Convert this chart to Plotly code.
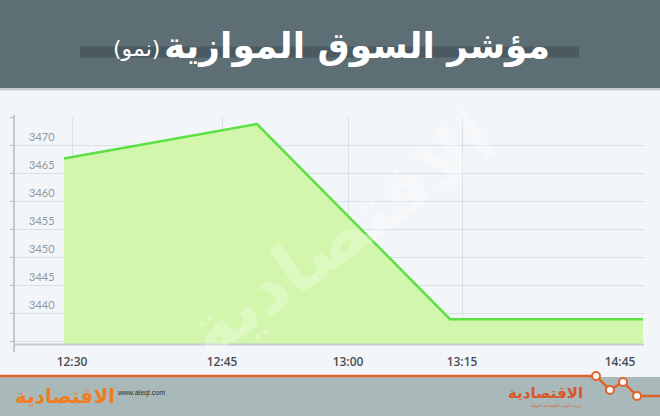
import plotly.graph_objects as go

# ---- data ----
points = [0, 1, 2, 3]                       # sample index along the session
index_values = [3467.6, 3473.75, 3438.9, 3438.9]
time_labels = ["12:30", "12:45", "13:00", "13:15", "14:45"]
time_label_pos = [0.0415, 0.8187, 1.4715, 2.0622, 2.8808]
y_ticks = [3440, 3445, 3450, 3455, 3460, 3465, 3470]
y_grid = [3435, 3440, 3445, 3450, 3455, 3460, 3465, 3470, 3475]
title_main = "مؤشر السوق الموازية"
title_sub = "(نمو)"

W, H = 660, 416
ML, MR, MT, MB = 14, 16, 117, 72
PW, PH = W - ML - MR, H - MT - MB


def px(x):
    return (x - ML) / PW


def py(y):
    return (H - MB - y) / PH


fig = go.Figure()
fig.add_trace(go.Scatter(
    x=points, y=index_values, mode="lines",
    line=dict(color="#5be143", width=2.5),
    fill="tozeroy", fillcolor="#d2f6ab",
    hoverinfo="skip", showlegend=False,
))
# invisible trace on the secondary axis for the vertical grid
fig.add_trace(go.Scatter(x=[time_label_pos[0]], y=[index_values[0]], xaxis="x2",
                         mode="markers", marker=dict(opacity=0), showlegend=False,
                         hoverinfo="skip"))

shapes = []
# header band
shapes.append(dict(type="rect", xref="paper", yref="paper", x0=px(0), x1=px(W),
                   y0=py(88), y1=py(0), fillcolor="#5d6e75", line=dict(width=0), layer="below"))
shapes.append(dict(type="rect", xref="paper", yref="paper", x0=px(0), x1=px(W),
                   y0=py(90.5), y1=py(88), fillcolor="#c3cdd0", line=dict(width=0), layer="below"))
# title bar
shapes.append(dict(type="rect", xref="paper", yref="paper", x0=px(80), x1=px(579),
                   y0=py(57.5), y1=py(46.5), fillcolor="#4b5a60", line=dict(width=0), layer="below"))
# footer band
shapes.append(dict(type="rect", xref="paper", yref="paper", x0=px(0), x1=px(W),
                   y0=py(H), y1=py(377), fillcolor="#a9b9b9", line=dict(width=0), layer="below"))
# footer orange zigzag
zig = [(0, 376), (596, 376), (610, 390), (623, 382), (637, 396), (W, 396)]
path = "M " + " L ".join(f"{px(a):.5f},{py(b):.5f}" for a, b in zig)
shapes.append(dict(type="path", xref="paper", yref="paper", path=path,
                   line=dict(color="#e0622b", width=2.5)))
for a, b in zig[1:5]:
    shapes.append(dict(type="circle", xref="paper", yref="paper",
                       x0=px(a - 4), x1=px(a + 4), y0=py(b + 4), y1=py(b - 4),
                       fillcolor="#ffffff", line=dict(color="#e0622b", width=2)))
# y axis line
shapes.append(dict(type="line", xref="paper", yref="paper", x0=px(14), x1=px(14),
                   y0=py(352), y1=py(115), line=dict(color="#b3bbbe", width=1.5)))
# x axis line
shapes.append(dict(type="line", xref="paper", yref="paper", x0=px(14), x1=px(644),
                   y0=py(344.5), y1=py(344.5), line=dict(color="#c6cdd0", width=2)))

ann = []
ann.append(dict(text=title_main, xref="paper", yref="paper", x=px(357), y=py(46),
                showarrow=False, xanchor="center", yanchor="middle",
                font=dict(family="DejaVu Sans", size=36, color="#ffffff", weight="bold")))
ann.append(dict(text=title_sub, xref="paper", yref="paper", x=px(136), y=py(49),
                showarrow=False, xanchor="center", yanchor="middle",
                font=dict(family="DejaVu Sans", size=22, color="#ffffff")))
# watermark
ann.append(dict(text="الاقتصادية", xref="paper", yref="paper", x=px(340), y=py(235),
                showarrow=False, textangle=-36,
                font=dict(family="DejaVu Sans", size=72, color="rgba(255,255,255,0.28)", weight="bold")))
# footer logos
ann.append(dict(text="الاقتصادية", xref="paper", yref="paper", x=px(13), y=py(396),
                showarrow=False, xanchor="left", yanchor="middle",
                font=dict(family="DejaVu Sans", size=20, color="#f07d22", weight="bold")))
ann.append(dict(text="www.aleqt.com", xref="paper", yref="paper", x=px(115), y=py(393),
                showarrow=False, xanchor="left", yanchor="middle",
                font=dict(family="Liberation Sans", size=7, color="#2c2c2c")))
ann.append(dict(text="الاقتصادية", xref="paper", yref="paper", x=px(585), y=py(393),
                showarrow=False, xanchor="right", yanchor="middle",
                font=dict(family="DejaVu Sans", size=15, color="#d8562a", weight="bold")))
ann.append(dict(text="جريدة العرب الاقتصادية الدولية", xref="paper", yref="paper", x=px(585), y=py(405),
                showarrow=False, xanchor="right", yanchor="middle",
                font=dict(family="DejaVu Sans", size=4, color="#d8562a")))

fig.update_layout(
    width=W, height=H,
    margin=dict(l=ML, r=MR, t=MT, b=MB),
    paper_bgcolor="#f3f6f8", plot_bgcolor="#f3f6f8",
    shapes=shapes, annotations=ann,
    xaxis=dict(range=[-50 / 193, 3 + 1 / 193], tickmode="array",
               tickvals=time_label_pos, ticktext=time_labels, showgrid=False,
               zeroline=False, showline=False, ticks="", ticklabelstandoff=9,
               tickfont=dict(family="Open Sans", size=12, color="#4a4d50", weight=600),
               fixedrange=True),
    xaxis2=dict(range=[-50 / 193, 3 + 1 / 193], overlaying="x", tickmode="array",
                tickvals=time_label_pos[:4], showticklabels=False, showgrid=True,
                gridcolor="#dbe2e5", gridwidth=1, zeroline=False, showline=False),
    yaxis=dict(range=[3475 - PH * 5 / 28, 3475], tickmode="array",
               tickvals=y_grid, ticktext=[str(v) if v in y_ticks else "" for v in y_grid],
               showgrid=True, gridcolor="#dbe2e5", gridwidth=1,
               zeroline=False, showline=False,
               ticks="outside", ticklen=3, tickcolor="#b3bbbe",
               ticklabelposition="inside top", ticklabelstandoff=12,
               tickfont=dict(family="Lato", size=11, color="#8f989c"),
               fixedrange=True),
)

fig.write_html("out.html", config={"displayModeBar": False},
               post_script="document.body.style.margin='0';document.body.style.padding='0';")
